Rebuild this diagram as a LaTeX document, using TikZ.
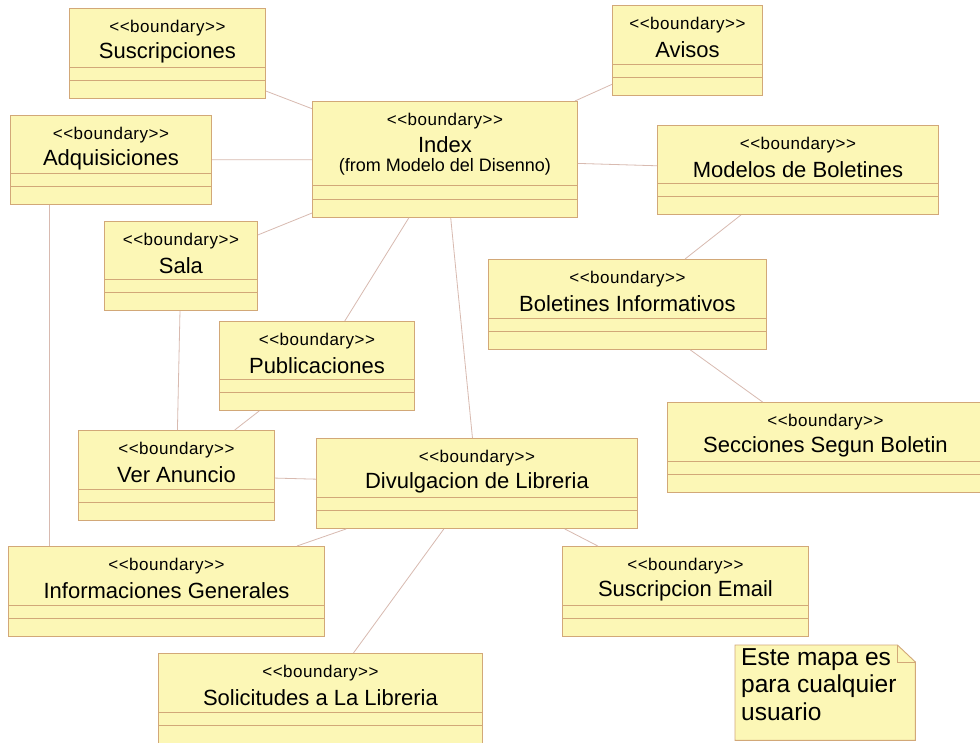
\documentclass[tikz,border=0pt]{standalone}
\usepackage{fontspec}
\setmainfont{Liberation Sans}
\newfontfamily\stereofont[LetterSpace=3]{Liberation Sans}
\newfontfamily\namefont{Liberation Sans}
\definecolor{boxfill}{HTML}{FCF7B6}
\definecolor{boxline}{HTML}{D2A878}
\definecolor{linkline}{HTML}{D8BAB0}

\tikzset{
  umlbox/.style={draw=boxline, fill=boxfill, line width=0.9pt, rectangle,
    inner sep=0pt, anchor=north west},
  stereo/.style={font=\stereofont\fontsize{17}{20}\selectfont, inner sep=0pt},
  cname/.style={font=\namefont\fontsize{22}{26}\selectfont, inner sep=0pt},
  fromtxt/.style={font=\namefont\fontsize{18}{21}\selectfont, inner sep=0pt},
  comp/.style={draw=boxline, line width=0.8pt},
  assoc/.style={draw=linkline, line width=0.8pt},
  notebox/.style={draw=boxline, fill=boxfill, line width=0.9pt},
  notetext/.style={font=\namefont\fontsize{24.5}{27.5}\selectfont, align=left,
    inner sep=0pt, anchor=north west},
}

% boundary class: id, left, top, width, height, name
\newcommand\bdybox[6]{%
  \node[umlbox, minimum width=#4pt, minimum height=#5pt] (#1) at (#2,#3) {};
  \node[stereo] (#1-st) at ([yshift=-20pt]#1.north) {<<boundary>>};
  \node[cname] (#1-nm) at ([yshift=-45pt]#1.north) {#6};
  \draw[comp] ([yshift=32pt]#1.south west) -- ([yshift=32pt]#1.south east);
  \draw[comp] ([yshift=19pt]#1.south west) -- ([yshift=19pt]#1.south east);
}

\begin{document}
\begin{tikzpicture}[x=1pt, y=-1pt]
  \clip (0,0) rectangle (980,742);
  \fill[white] (0,0) rectangle (980,742);

  % classes
  \bdybox{sus}{69}{8}{196}{90}{Suscripciones}
  \bdybox{avi}{612}{5}{150}{90}{Avisos}
  \bdybox{adq}{10}{115}{201}{89}{Adquisiciones}
  \bdybox{mod}{657}{125}{281}{89}{Modelos de Boletines}
  \bdybox{sal}{104}{221}{153}{89}{Sala}
  \bdybox{bol}{488}{259}{278}{90}{Boletines Informativos}
  \bdybox{pub}{219}{321}{195}{89}{Publicaciones}
  \bdybox{sec}{667}{402}{316}{90}{Secciones Segun Boletin}
  \bdybox{ver}{78}{430}{196}{90}{Ver Anuncio}
  \bdybox{div}{316}{438}{321}{90}{Divulgacion de Libreria}
  \bdybox{inf}{8}{546}{316}{90}{Informaciones Generales}
  \bdybox{ema}{562}{546}{246}{90}{Suscripcion Email}
  \bdybox{sol}{158}{653}{324}{90}{Solicitudes a La Libreria}

  % Index, imported from the design model
  \node[umlbox, minimum width=265pt, minimum height=116pt] (idx) at (312,101) {};
  \node[stereo] (idx-st) at ([yshift=-20pt]idx.north) {<<boundary>>};
  \node[cname] (idx-nm) at ([yshift=-44pt]idx.north) {Index};
  \node[fromtxt] (idx-from) at ([yshift=-66pt]idx.north) {(from Modelo del Disenno)};
  \draw[comp] ([yshift=33pt]idx.south west) -- ([yshift=33pt]idx.south east);
  \draw[comp] ([yshift=19pt]idx.south west) -- ([yshift=19pt]idx.south east);

  % associations
  \draw[assoc] (sus) -- (idx);
  \draw[assoc] (avi) -- (idx);
  \draw[assoc] (adq) -- (idx);
  \draw[assoc] (idx) -- (mod);
  \draw[assoc] (idx) -- (sal);
  \draw[assoc] (idx) -- (pub);
  \draw[assoc] (idx) -- (div);
  \draw[assoc] (mod) -- (bol);
  \draw[assoc] (bol) -- (sec);
  \draw[assoc] (sal) -- (ver);
  \draw[assoc] (pub) -- (ver);
  \draw[assoc] (ver) -- (div);
  \draw[assoc] (div) -- (inf);
  \draw[assoc] (div) -- (sol);
  \draw[assoc] (div) -- (ema);
  \draw[assoc] ([xshift=39pt]adq.south west) -- ([xshift=39pt]adq.south west |- inf.north);

  % note with folded corner
  \node[minimum width=180pt, minimum height=95pt, inner sep=0pt, anchor=north west] (note) at (735,645) {};
  \filldraw[notebox] (note.north west) -- ([xshift=-18pt]note.north east)
    -- ([yshift=-17pt]note.north east) -- (note.south east)
    -- (note.south west) -- cycle;
  \draw[notebox, fill=none] ([xshift=-18pt]note.north east)
    -- ([xshift=-18pt, yshift=-17pt]note.north east) -- ([yshift=-17pt]note.north east);
  \node[notetext] (note-txt) at ([xshift=6pt, yshift=-3pt]note.north west)
    {Este mapa es\\para cualquier\\usuario};
\end{tikzpicture}
\end{document}
